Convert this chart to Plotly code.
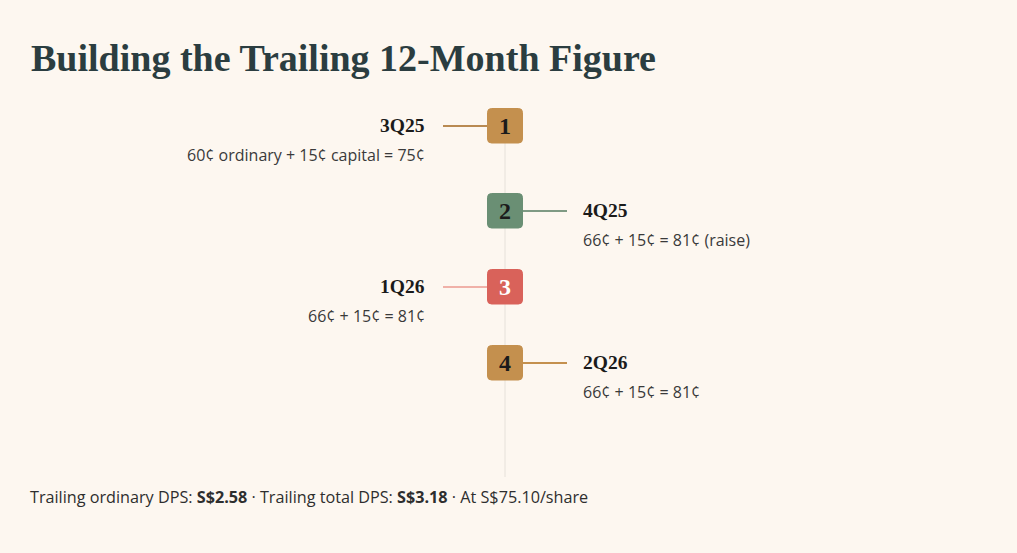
import plotly.graph_objects as go

# timeline data
quarters = ["3Q25", "4Q25", "1Q26", "2Q26"]
steps = ["1", "2", "3", "4"]
ordinary_cents = [60, 66, 66, 66]
capital_cents = [15, 15, 15, 15]
notes = ["", " (raise)", "", ""]
trailing_ordinary = "S$2.58"
trailing_total = "S$3.18"
share_price = "S$75.10"

W, H = 1017, 553
BG = "#FDF7F0"
box_colors = ["#C4904E", "#6A8F74", "#D9625A", "#C4904E"]
link_colors = ["#B98A52", "#7F9A84", "#F0B1A8", "#C4904E"]
digit_colors = ["#1B1B1B", "#1B1B1B", "#FFFFFF", "#1B1B1B"]
row_y = [126, 211, 287, 363]
cx = 505

fig = go.Figure()

# invisible trace so axes exist
fig.add_trace(go.Scatter(x=[0, W], y=[0, H], mode="markers",
                         marker=dict(opacity=0), hoverinfo="skip"))

shapes = []
annotations = []

# spine
shapes.append(dict(type="line", x0=cx, x1=cx, y0=row_y[0], y1=477,
                   line=dict(color="#E6E1DA", width=1), layer="below"))


def rounded_box(x0, y0, x1, y1, r):
    return (f"M{x0 + r},{y0} L{x1 - r},{y0} Q{x1},{y0} {x1},{y0 + r} "
            f"L{x1},{y1 - r} Q{x1},{y1} {x1 - r},{y1} L{x0 + r},{y1} "
            f"Q{x0},{y1} {x0},{y1 - r} L{x0},{y0 + r} Q{x0},{y0} {x0 + r},{y0} Z")


for i, q in enumerate(quarters):
    y = row_y[i]
    left = i % 2 == 0
    # connector
    if left:
        shapes.append(dict(type="line", x0=443, x1=487, y0=y, y1=y,
                           line=dict(color=link_colors[i], width=2)))
    else:
        shapes.append(dict(type="line", x0=522, x1=567, y0=y, y1=y,
                           line=dict(color=link_colors[i], width=2)))
    # numbered box
    shapes.append(dict(type="path", path=rounded_box(487.5, y - 17.5, 522.5, y + 17, 4),
                       fillcolor=box_colors[i], line=dict(color=box_colors[i], width=1)))
    annotations.append(dict(x=cx, y=y, text=f"<b>{steps[i]}</b>", showarrow=False,
                            font=dict(family="Liberation Serif", size=24, color=digit_colors[i]),
                            xanchor="center", yanchor="middle"))
    total = ordinary_cents[i] + capital_cents[i]
    if i == 0:
        detail = f"{ordinary_cents[i]}¢ ordinary + {capital_cents[i]}¢ capital = {total}¢"
    else:
        detail = f"{ordinary_cents[i]}¢ + {capital_cents[i]}¢ = {total}¢{notes[i]}"
    tx = 427 if left else 581
    anchor = "right" if left else "left"
    annotations.append(dict(x=tx, y=y - 1, text=f"<b>{q}</b>", showarrow=False,
                            font=dict(family="Liberation Serif", size=19.5, color="#1B1B1B"),
                            xanchor=anchor, yanchor="middle"))
    annotations.append(dict(x=tx, y=y + 29, text=detail, showarrow=False,
                            font=dict(family="Open Sans", size=16, color="#3A3A3A"),
                            xanchor=anchor, yanchor="middle"))

# title
annotations.append(dict(x=29, y=58, text="<b>Building the Trailing 12-Month Figure</b>",
                        showarrow=False, xanchor="left", yanchor="middle",
                        font=dict(family="Liberation Serif", size=38, color="#2B3D40")))

# footer
annotations.append(dict(
    x=28, y=497, showarrow=False, xanchor="left", yanchor="middle",
    text=(f"Trailing ordinary DPS: <b>{trailing_ordinary}</b> · "
          f"Trailing total DPS: <b>{trailing_total}</b> · At {share_price}/share"),
    font=dict(family="Open Sans", size=16.2, color="#2E2E2E")))

fig.update_layout(
    width=W, height=H,
    margin=dict(l=0, r=0, t=0, b=0),
    paper_bgcolor=BG, plot_bgcolor=BG,
    showlegend=False,
    xaxis=dict(range=[0, W], visible=False, fixedrange=True),
    yaxis=dict(range=[H, 0], visible=False, fixedrange=True),
    shapes=shapes,
    annotations=annotations,
)

fig.write_html("out.html", config={"displayModeBar": False},
               post_script="document.body.style.margin='0';document.body.style.background='#FDF7F0';")
